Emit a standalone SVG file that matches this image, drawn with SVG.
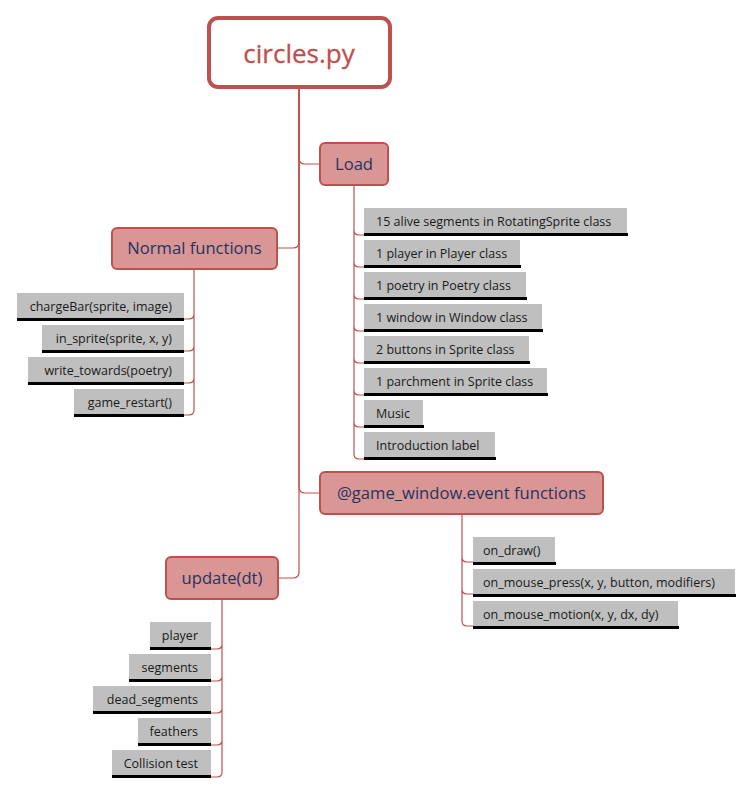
<svg xmlns="http://www.w3.org/2000/svg" width="753" height="794" viewBox="0 0 753 794">
<style>
.c{fill:none;stroke:#C0504D;stroke-width:1.2}
.n{fill:#D99694;stroke:#C0504D;stroke-width:2}
.nt{font-family:"Open Sans","Noto Sans",sans-serif;font-size:16.6px;fill:#1F3462;text-anchor:middle}
.g{fill:#BFBFBF}
.b{fill:#000}
.t{font-family:"Open Sans","Noto Sans",sans-serif;font-size:12.5px;fill:#1a1a1a}
.r{text-anchor:end}
</style>
<rect width="753" height="794" fill="#fff"/>
<g id="connectors">
<path class="c" d="M299,88 V158 Q299,164 305,164 H320"/>
<path class="c" d="M299,88 V242 Q299,248 293,248 H277"/>
<path class="c" d="M299,88 V487 Q299,493 305,493 H320"/>
<path class="c" d="M299,88 V572 Q299,578 293,578 H278"/>
<path class="c" d="M354,186 V230 Q354,235 359,235 H364 M354,230 V262 Q354,267 359,267 H364 M354,262 V294 Q354,299 359,299 H364 M354,294 V326 Q354,331 359,331 H364 M354,326 V358 Q354,363 359,363 H364 M354,358 V390 Q354,395 359,395 H364 M354,390 V422 Q354,427 359,427 H364 M354,422 V454 Q354,459 359,459 H364"/>
<path class="c" d="M194,270 V314 Q194,319 189,319 H184 M194,314 V346 Q194,351 189,351 H184 M194,346 V378 Q194,383 189,383 H184 M194,378 V410 Q194,415 189,415 H184"/>
<path class="c" d="M462,514 V557 Q462,562 467,562 H473 M462,557 V589 Q462,594 467,594 H473 M462,589 V621 Q462,626 467,626 H473"/>
<path class="c" d="M222,599 V644 Q222,649 217,649 H211 M222,644 V676 Q222,681 217,681 H211 M222,676 V708 Q222,713 217,713 H211 M222,708 V740 Q222,745 217,745 H211 M222,740 V772 Q222,777 217,777 H211"/>
</g>
<g id="root">
<rect x="209" y="18" width="181" height="69" rx="9" fill="#fff" stroke="#C0504D" stroke-width="4"/>
<text x="299" y="63" font-family="'Open Sans','Noto Sans',sans-serif" font-size="26" fill="#C0504D" stroke="#C0504D" stroke-width="0.3" text-anchor="middle">circles.py</text>
</g>
<g id="load">
<rect class="n" x="320" y="143" width="68" height="42" rx="5"/>
<text class="nt" x="354" y="170">Load</text>
</g>
<g id="normal">
<rect class="n" x="112" y="228" width="165" height="41" rx="5"/>
<text class="nt" x="194.5" y="254">Normal functions</text>
</g>
<g id="event">
<rect class="n" x="320" y="472" width="283" height="42" rx="5"/>
<text class="nt" x="461.5" y="499">@game_window.event functions</text>
</g>
<g id="update">
<rect class="n" x="166" y="557" width="112" height="42" rx="5"/>
<text class="nt" x="222" y="584">update(dt)</text>
</g>
<g id="load-items">
<g id="l1"><rect class="g" x="364" y="208" width="263" height="25"/><rect class="b" x="364" y="233" width="264" height="3"/><text class="t" x="376" y="226">15 alive segments in RotatingSprite class</text></g>
<g id="l2"><rect class="g" x="364" y="240" width="156" height="25"/><rect class="b" x="364" y="265" width="157" height="3"/><text class="t" x="376" y="258">1 player in Player class</text></g>
<g id="l3"><rect class="g" x="364" y="272" width="162" height="25"/><rect class="b" x="364" y="297" width="163" height="3"/><text class="t" x="376" y="290">1 poetry in Poetry class</text></g>
<g id="l4"><rect class="g" x="364" y="304" width="178" height="25"/><rect class="b" x="364" y="329" width="179" height="3"/><text class="t" x="376" y="322">1 window in Window class</text></g>
<g id="l5"><rect class="g" x="364" y="336" width="165" height="25"/><rect class="b" x="364" y="361" width="166" height="3"/><text class="t" x="376" y="354">2 buttons in Sprite class</text></g>
<g id="l6"><rect class="g" x="364" y="368" width="183" height="25"/><rect class="b" x="364" y="393" width="184" height="3"/><text class="t" x="376" y="386">1 parchment in Sprite class</text></g>
<g id="l7"><rect class="g" x="364" y="400" width="59" height="25"/><rect class="b" x="364" y="425" width="60" height="3"/><text class="t" x="376" y="418">Music</text></g>
<g id="l8"><rect class="g" x="364" y="432" width="131" height="25"/><rect class="b" x="364" y="457" width="132" height="3"/><text class="t" x="376" y="450">Introduction label</text></g>
</g>
<g id="normal-items">
<g id="n1"><rect class="g" x="17" y="293" width="167" height="25"/><rect class="b" x="17" y="318" width="167" height="3"/><text class="t r" x="172" y="311">chargeBar(sprite, image)</text></g>
<g id="n2"><rect class="g" x="42" y="325" width="142" height="25"/><rect class="b" x="42" y="350" width="142" height="3"/><text class="t r" x="172" y="343">in_sprite(sprite, x, y)</text></g>
<g id="n3"><rect class="g" x="28" y="357" width="156" height="25"/><rect class="b" x="28" y="382" width="156" height="3"/><text class="t r" x="172" y="375">write_towards(poetry)</text></g>
<g id="n4"><rect class="g" x="74" y="389" width="110" height="25"/><rect class="b" x="74" y="414" width="110" height="3"/><text class="t r" x="172" y="407">game_restart()</text></g>
</g>
<g id="event-items">
<g id="e1"><rect class="g" x="473" y="537" width="82" height="25"/><rect class="b" x="473" y="562" width="83" height="3"/><text class="t" x="483" y="555">on_draw()</text></g>
<g id="e2"><rect class="g" x="473" y="569" width="262" height="25"/><rect class="b" x="473" y="594" width="263" height="3"/><text class="t" x="483" y="587">on_mouse_press(x, y, button, modifiers)</text></g>
<g id="e3"><rect class="g" x="473" y="601" width="205" height="25"/><rect class="b" x="473" y="626" width="206" height="3"/><text class="t" x="483" y="619">on_mouse_motion(x, y, dx, dy)</text></g>
</g>
<g id="update-items">
<g id="u1"><rect class="g" x="150" y="622" width="61" height="25"/><rect class="b" x="150" y="647" width="61" height="3"/><text class="t r" x="198" y="640">player</text></g>
<g id="u2"><rect class="g" x="129" y="654" width="82" height="25"/><rect class="b" x="129" y="679" width="82" height="3"/><text class="t r" x="198" y="672">segments</text></g>
<g id="u3"><rect class="g" x="93" y="686" width="118" height="25"/><rect class="b" x="93" y="711" width="118" height="3"/><text class="t r" x="198" y="704">dead_segments</text></g>
<g id="u4"><rect class="g" x="138" y="718" width="73" height="25"/><rect class="b" x="138" y="743" width="73" height="3"/><text class="t r" x="198" y="736">feathers</text></g>
<g id="u5"><rect class="g" x="112" y="750" width="99" height="25"/><rect class="b" x="112" y="775" width="99" height="3"/><text class="t r" x="198" y="768">Collision test</text></g>
</g>
</svg>
